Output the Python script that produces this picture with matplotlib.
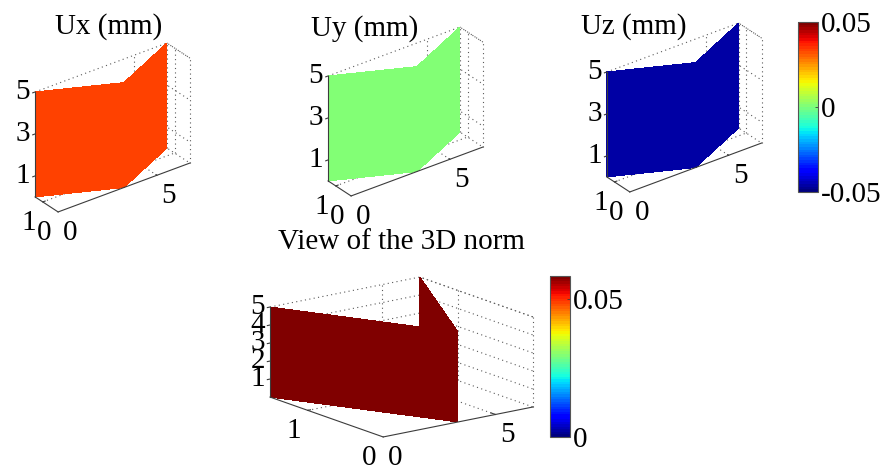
import numpy as np
import matplotlib
matplotlib.use("Agg")
import matplotlib.pyplot as plt
from matplotlib import cm
from matplotlib.colors import Normalize
from mpl_toolkits.mplot3d import proj3d

plt.rcParams['font.family'] = ['Liberation Serif', 'DejaVu Serif']

# Data
x_wall = [1.5, 0, 1.5]
y_wall = [0, 3.33, 6.67]
z_wall = [0, 5]
x_max = 1.5
y_max = 6.67
z_max = 5

titles = ["Ux (mm)", "Uy (mm)", "Uz (mm)", "View of the 3D norm"]
values = [0.034, 0.0015, -0.046, 0.0575]
x_ticks = [0, 1]
y_ticks = [0, 5]
z_ticks_top = [1, 3, 5]
z_ticks_norm = [1, 2, 3, 4, 5]
clim_top = (-0.05, 0.05)
clim_norm = (0, 0.0584)
cbar_ticks_top = [-0.05, 0, 0.05]
cbar_labels_top = ["-0.05", "0", "0.05"]
cbar_ticks_norm = [0, 0.05]
cbar_labels_norm = ["0", "0.05"]

W, H = 882, 468
FS = 21
GRID = "#5a5a5a"
EDGE = "#3c3c3c"
jet = matplotlib.colormaps["jet"].resampled(64)

fig = plt.figure(figsize=(W / 100, H / 100), dpi=100, facecolor="white")


def view3d(cx, cy, box, elev, azim, value, clim, z_ticks, left_pad=5):
    # the box is given in pixels, cx/cy is the middle of the box on the image
    S = 320
    frac = 0.095 / 0.185
    ax = fig.add_axes([(cx - frac * S) / W, (H - cy - frac * S) / H, S / W, S / H],
                      projection="3d", proj_type="ortho")
    ax.computed_zorder = False
    ax.set_axis_off()
    ax.patch.set_alpha(0)
    ax.set_xlim(0, x_max)
    ax.set_ylim(0, y_max)
    ax.set_zlim(0, z_max)
    ax.view_init(elev=elev, azim=azim)
    zoom = np.linalg.norm(box) / (0.5405 * S * 1.9057)
    ax.set_box_aspect(box, zoom=zoom)

    dots = dict(color=GRID, lw=0.8, ls=(0, (1, 3)), zorder=1)
    # back walls
    for z in z_ticks + [0]:
        ax.plot([x_max, x_max, 0], [0, y_max, y_max], [z, z, z], **dots)
    ax.plot([0, x_max], [y_max, y_max], [z_max, z_max], **dots)
    for y in y_ticks[1:] + [y_max]:
        ax.plot([x_max, x_max], [y, y], [0, z_max], **dots)
    for x in x_ticks[1:] + [0]:
        ax.plot([x, x], [y_max, y_max], [0, z_max], **dots)
    # floor
    for x in x_ticks[1:]:
        ax.plot([x, x], [0, y_max], [0, 0], **dots)
    for y in y_ticks[1:]:
        ax.plot([0, x_max], [y, y], [0, 0], **dots)

    # the wall itself
    xx = np.array([x_wall, x_wall])
    yy = np.array([y_wall, y_wall])
    zz = np.array([[z_wall[0]] * 3, [z_wall[1]] * 3])
    color = jet(Normalize(*clim)(value))
    ax.plot_surface(xx, yy, zz, color=color, shade=False, linewidth=0,
                    antialiased=False, zorder=2)

    solid = dict(color=EDGE, lw=0.8, zorder=3)
    ax.plot([0, x_max], [0, 0], [0, 0], **solid)
    ax.plot([0, 0], [0, y_max], [0, 0], **solid)
    ax.plot([x_max, x_max], [0, 0], [0, z_max], **solid)

    # tick marks
    for z in z_ticks:
        ax.plot([x_max, x_max], [0, -0.12], [z, z], **solid)
    for y in y_ticks[1:]:
        ax.plot([0, 0.06], [y, y], [0, 0], **solid)
    for x in x_ticks[1:]:
        ax.plot([x, x], [0, 0.12], [0, 0], **solid)

    # tick labels, offset in pixels from the tick position
    M = ax.get_proj()

    def label(s, x, y, z, dx, dy, ha="center"):
        X, Y, _ = proj3d.proj_transform(x, y, z, M)
        ax.annotate(s, (X, Y), xytext=(dx, -dy), textcoords="offset pixels",
                    ha=ha, va="center", fontsize=FS, annotation_clip=False)

    for z in z_ticks:
        label(str(z), x_max, 0, z, -left_pad, 0, ha="right")
    for y in y_ticks:
        label(str(y), 0, y, 0, 12, 21)
    for x in x_ticks:
        label(str(x), x, 0, 0, -14, 21)
    return ax


def colorbar(left, top, width, height, clim, ticks, labels):
    cax = fig.add_axes([left / W, (H - top - height) / H, width / W, height / H])
    sm = cm.ScalarMappable(norm=Normalize(*clim), cmap=jet)
    cb = fig.colorbar(sm, cax=cax, ticks=ticks)
    cb.ax.set_yticklabels(labels)
    cb.ax.tick_params(direction="in", length=2, width=0.6, pad=2, labelsize=FS, color=EDGE)
    cb.outline.set_edgecolor("#555555")
    cb.outline.set_linewidth(0.8)


def title(s, cx, cy):
    fig.text(cx / W, 1 - cy / H, s, fontsize=FS, ha="center", va="center")


box_top = (38.2, 165, 120.6)
box_norm = (188, 187.5, 93.4)
view3d(112.5, 127.5, box_top, -29.5, 37, values[0], clim_top, z_ticks_top)
view3d(405.5, 111.5, box_top, -29.5, 37, values[1], clim_top, z_ticks_top)
view3d(684.2, 107.5, box_top, -29.5, 37, values[2], clim_top, z_ticks_top)
view3d(401.5, 357, box_norm, -15.4, 37, values[3], clim_norm, z_ticks_norm)

title(titles[0], 109, 27)
title(titles[1], 365, 29)
title(titles[2], 634, 27)
title(titles[3], 401, 242)

colorbar(798, 22, 20, 170, clim_top, cbar_ticks_top, cbar_labels_top)
colorbar(550, 276, 20, 161, clim_norm, cbar_ticks_norm, cbar_labels_norm)

fig.savefig("out.png", dpi=100)
